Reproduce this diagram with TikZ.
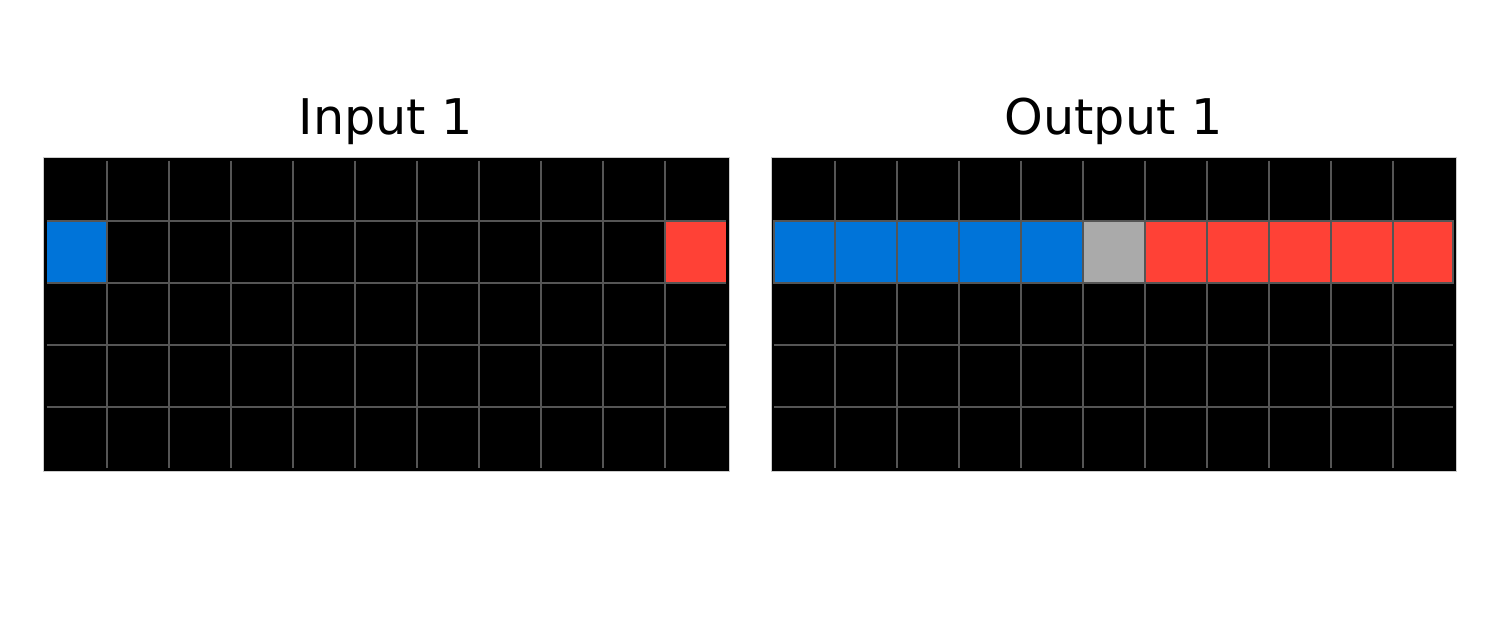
\documentclass[tikz,border=0pt]{standalone}
\usepackage{fontspec}
\setmainfont{DejaVu Sans}
\definecolor{arcblue}{HTML}{0074D9}
\definecolor{arcred}{HTML}{FF4136}
\definecolor{arcgray}{HTML}{AAAAAA}
\definecolor{gridgray}{HTML}{555555}
\tikzset{
  frame/.style={fill=black, draw=black!20, line width=0.3pt},
  gridline/.style={draw=gridgray, line width=1pt},
  title/.style={anchor=base, inner sep=0pt, font=\fontsize{24.6}{28}\selectfont}
}
\begin{document}
\begin{tikzpicture}[x=0.5pt,y=-0.5pt]
\useasboundingbox[fill=white] (0,0) rectangle (1500,629);
\def\gx{45.5}\def\gy{159.5}\def\cw{61.95}\def\ch{61.9}
% ---------- Input grid ----------
\node[title] (tin) at (386,134) {Input 1};
\fill[frame] (43.5,157.5) rectangle (729,471);
\fill[arcblue] (\gx+1,\gy+\ch) rectangle (\gx+\cw,\gy+2*\ch);
\fill[arcred] (\gx+10*\cw,\gy+\ch) rectangle (\gx+11*\cw-1,\gy+2*\ch);
\foreach \i in {1,...,10} \draw[gridline] (\gx+\i*\cw,\gy+1) -- (\gx+\i*\cw,\gy+5*\ch-1);
\foreach \j in {1,...,4} \draw[gridline] (\gx+1,\gy+\j*\ch) -- (\gx+11*\cw-1,\gy+\j*\ch);
% ---------- Output grid ----------
\begin{scope}[shift={(727.5,0)}]
\node[title] (tout) at (386,134) {Output 1};
\fill[frame] (43.5,157.5) rectangle (729,471);
\foreach \c in {0,...,4} \fill[arcblue] (\gx+\c*\cw,\gy+\ch) rectangle (\gx+\c*\cw+\cw,\gy+2*\ch);
\fill[arcgray] (\gx+5*\cw,\gy+\ch) rectangle (\gx+6*\cw,\gy+2*\ch);
\foreach \c in {6,...,10} \fill[arcred] (\gx+\c*\cw,\gy+\ch) rectangle (\gx+\c*\cw+\cw,\gy+2*\ch);
\foreach \i in {1,...,10} \draw[gridline] (\gx+\i*\cw,\gy+1) -- (\gx+\i*\cw,\gy+5*\ch-1);
\foreach \j in {1,...,4} \draw[gridline] (\gx+1,\gy+\j*\ch) -- (\gx+11*\cw-1,\gy+\j*\ch);
\draw[gridline] (\gx+1,\gy+\ch) rectangle (\gx+11*\cw-1,\gy+2*\ch);
\end{scope}
\end{tikzpicture}
\end{document}
